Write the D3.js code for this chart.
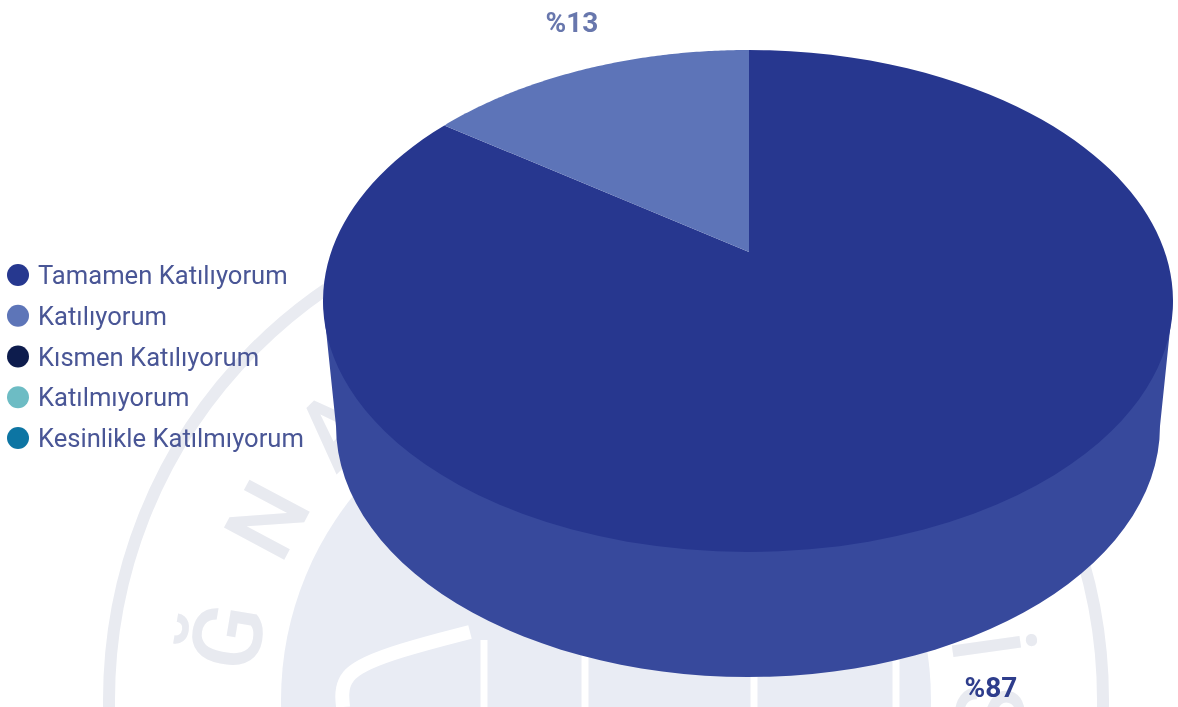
<!DOCTYPE html>
<html>
<head>
<meta charset="utf-8">
<script src="https://cdn.jsdelivr.net/npm/d3@7"></script>
<style>
  html, body { margin: 0; padding: 0; background: #fff; }
  svg { display: block; }
  text { font-family: "Roboto", sans-serif; }
  .legend text { font-size: 25.6px; fill: #4a5696; }
  .pct { font-size: 28px; font-weight: 700; }
  .seal-letter { font-size: 96px; font-weight: 500; fill: #e8eaf0; text-anchor: middle; }
</style>
</head>
<body>
<svg id="chart" width="1178" height="707"></svg>
<script>
var categories = ['Tamamen Katılıyorum', 'Katılıyorum', 'Kısmen Katılıyorum', 'Katılmıyorum', 'Kesinlikle Katılmıyorum'];
var values = [87, 13, 0, 0, 0];
var colors = ['#27378f', '#5d74b8', '#0f1c4d', '#6dbcc4', '#0f75a3'];
var labels = ['%87', '%13'];
var labelColors = ['#2e3d8c', '#6877ad'];

// watermark letters that show around the pie, angle in degrees on the seal
var sealLetters = ['A', 'Ğ', 'N', 'A', 'İ', 'S'];
var sealAngles = [-98, -80.5, -62, -45, 82, 92];

var svg = d3.select('#chart');
var blur = svg.append('defs').append('filter').attr('id', 'soft');
blur.append('feGaussianBlur').attr('stdDeviation', 0.7);

// pie top: ellipse plus the point the slices meet at
var rim = { cx: 748, cy: 301, rx: 425, ry: 251 };
var apex = { x: 749, y: 252 };
var squash = 2.26;
var depth = 125;
var lowerRx = 412;

// walk from the apex along a slice angle until the ellipse is reached
function rimPoint(a) {
  var dx = Math.sin(a) * squash;
  var dy = -Math.cos(a);
  var ox = (apex.x - rim.cx) / rim.rx;
  var oy = (apex.y - rim.cy) / rim.ry;
  var ux = dx / rim.rx;
  var uy = dy / rim.ry;
  var A = ux * ux + uy * uy;
  var B = 2 * (ox * ux + oy * uy);
  var C = ox * ox + oy * oy - 1;
  var t = (-B + Math.sqrt(B * B - 4 * A * C)) / (2 * A);
  return [apex.x + dx * t, apex.y + dy * t];
}

var line = d3.line();
var curve = d3.line().curve(d3.curveBasis);

// watermark seal behind the chart
var seal = { x: 606, y: 700 };
var mark = svg.append('g').attr('class', 'watermark').attr('filter', 'url(#soft)');
mark.append('circle').attr('cx', seal.x).attr('cy', seal.y).attr('r', 497)
  .attr('fill', 'none').attr('stroke', '#e9ebf1').attr('stroke-width', 12);
mark.append('circle').attr('cx', seal.x).attr('cy', seal.y).attr('r', 325).attr('fill', '#e9ecf4');

// white cuts of the shield inside the seal
mark.append('path')
  .attr('d', curve([[343, 707], [340, 672], [400, 650], [470, 632]]))
  .attr('fill', 'none').attr('stroke', '#fff').attr('stroke-width', 14);
mark.selectAll('line.cut').data([484, 585, 754, 896]).enter().append('line')
  .attr('class', 'cut')
  .attr('x1', function (d) { return d; }).attr('x2', function (d) { return d; })
  .attr('y1', 640).attr('y2', 707)
  .attr('stroke', '#fff').attr('stroke-width', 7);

mark.selectAll('text').data(sealLetters).enter().append('text')
  .attr('class', 'seal-letter')
  .attr('transform', function (d, i) {
    return 'translate(' + seal.x + ',' + seal.y + ') rotate(' + sealAngles[i] + ') translate(0,-350)';
  })
  .text(function (d) { return d; });

// side wall
var lower = d3.range(0, 181, 3).map(function (d) {
  var a = d * Math.PI / 180;
  return [rim.cx + lowerRx * Math.cos(a), rim.cy + depth + rim.ry * Math.sin(a)];
});
var wall = [[rim.cx + rim.rx, rim.cy]].concat(lower, [[rim.cx - rim.rx, rim.cy]]);
svg.append('path').attr('d', line(wall) + 'Z').attr('fill', '#37499c');

// top slices, laid out by d3.pie from the values
var pie = d3.pie().sort(null);
var slices = pie(values).filter(function (d) { return d.value > 0; });

svg.append('g').selectAll('path').data(slices).enter().append('path')
  .attr('fill', function (d) { return colors[d.index]; })
  .attr('d', function (d) {
    var steps = d3.range(0, 121).map(function (k) {
      return rimPoint(d.startAngle + (d.endAngle - d.startAngle) * k / 120);
    });
    return line([[apex.x, apex.y]].concat(steps)) + 'Z';
  });

// percent labels
var pctX = d3.scaleOrdinal().domain(labels).range([991, 572]);
var pctY = d3.scaleOrdinal().domain(labels).range([697, 32]);
svg.append('g').selectAll('text').data(labels).enter().append('text')
  .attr('class', 'pct').attr('text-anchor', 'middle')
  .attr('filter', 'url(#soft)')
  .attr('x', function (d) { return pctX(d); })
  .attr('y', function (d) { return pctY(d); })
  .attr('fill', function (d, i) { return labelColors[i]; })
  .text(function (d) { return d; });

// legend
var legendY = d3.scalePoint().domain(categories).range([275, 438]);
var legend = svg.append('g').attr('class', 'legend').attr('filter', 'url(#soft)')
  .selectAll('g').data(categories).enter().append('g')
  .attr('transform', function (d) { return 'translate(0,' + legendY(d) + ')'; });
legend.append('circle').attr('cx', 18).attr('r', 11)
  .attr('fill', function (d, i) { return colors[i]; });
legend.append('text').attr('x', 38).attr('y', 9).text(function (d) { return d; });
</script>
</body>
</html>
